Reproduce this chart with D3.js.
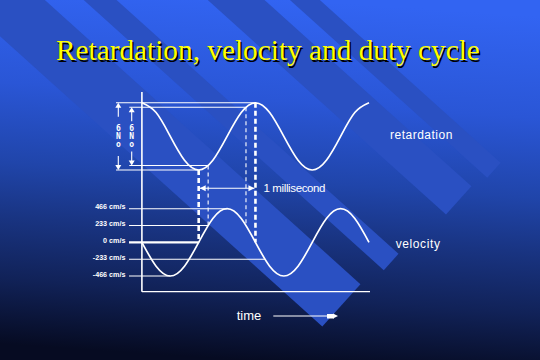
<!DOCTYPE html>
<html><head><meta charset="utf-8">
<script src="https://cdn.jsdelivr.net/npm/d3@7/dist/d3.min.js"></script>
<style>html,body{margin:0;padding:0;background:#000;}svg{display:block;}</style>
</head><body>
<script>
// ---- data ----
const title = "Retardation, velocity and duty cycle";
const timeMs = [0,0.25,0.5,0.75,1,1.25,1.5,1.75,2,2.25,2.5,2.75,3,3.25,3.5,3.75,4];
const retardation = [1,0.71,0,-0.71,-1,-0.71,0,0.71,1,0.71,0,-0.71,-1,-0.71,0,0.71,1];
const velocity = [0,-330,-466,-330,0,330,466,330,0,-330,-466,-330,0,330,466,330,0];
const velTicks = [466,233,0,-233,-466];
const velTickLabels = ["466 cm/s","233 cm/s","0 cm/s","-233 cm/s","-466 cm/s"];
const velTickEnds = [1.5,1.1667,1.0,2.1667,0.5];   // time where each guide line meets the curve
const retLevels = [1,0.866,-0.866,-1];
const retLevelEnds = [2,1.8333,1.1667,1];
const dutyThick = [1,2];          // ms, thick dashed
const dutyThin = [1.1667,1.8333]; // ms, thin dashed
const seriesNames = ["retardation","velocity"];
const intervalLabel = "1 millisecond";
const xLabel = "time";
const ampLabel = ["6","N","o"];

const W=540,H=360;
const svg=d3.select("body").append("svg").attr("width",W).attr("height",H);
const defs=svg.append("defs");
const g=defs.append("linearGradient").attr("id","bg").attr("x1",0.55).attr("y1",0).attr("x2",0.45).attr("y2",1);
[[0,"#3264f2"],[0.28,"#2a56d6"],[0.5,"#2045aa"],[0.65,"#193482"],[0.82,"#112258"],[1,"#060b22"]]
 .forEach(s=>g.append("stop").attr("offset",s[0]).attr("stop-color",s[1]));
svg.append("rect").attr("width",W).attr("height",H).attr("fill","url(#bg)");

// decorative ribbons: rotated frame (u along ribbon, v across)
const ang=42;
const ribbons=[{v0:-30,v1:27,u:458},{v0:-78,v1:-56,u:466},{v0:-177,v1:-139,u:475},{v0:-214,v1:-194,u:481}];
const rg=svg.append("g").attr("transform",`rotate(${ang})`);
ribbons.forEach(r=>rg.append("rect").attr("x",-400).attr("y",r.v0).attr("width",r.u+400).attr("height",r.v1-r.v0).attr("fill","#2a50c2"));

// title
const tt=svg.append("g").attr("font-family","'Liberation Serif','Times New Roman',serif").attr("font-size",29.3);
tt.append("text").attr("x",57.5).attr("y",61.5).attr("fill","#000").text(title);
tt.append("text").attr("x",56).attr("y",60).attr("fill","#ffff00").text(title);

// scales
const x=d3.scaleLinear().domain([0,4]).range([141.9,369]);
const yR=d3.scaleLinear().domain([-1,1]).range([170,102.8]);
const yV=d3.scaleLinear().domain([-466,466]).range([276,208.7]);

const W1="#ffffff";
const ch=svg.append("g").attr("stroke",W1).attr("fill","none");

// axes
ch.append("line").attr("x1",x(0)).attr("x2",x(0)).attr("y1",92).attr("y2",291.7).attr("stroke-width",1.6);
ch.append("line").attr("x1",x(0)).attr("x2",370).attr("y1",291.7).attr("y2",291.7).attr("stroke-width",1.3);

// retardation guide lines
const retStarts=[116,129.3,129.3,116];
retLevels.forEach((l,i)=>ch.append("line").attr("x1",retStarts[i]).attr("x2",x(retLevelEnds[i]))
  .attr("y1",yR(l)).attr("y2",yR(l)).attr("stroke-width",1.1));

// velocity guide lines
velTicks.forEach((v,i)=>ch.append("line").attr("x1",129).attr("x2",x(velTickEnds[i]))
  .attr("y1",yV(v)).attr("y2",yV(v)).attr("stroke-width",v===0?2.2:1.1));
const vl=svg.append("g").attr("font-family","'Liberation Sans',Arial,sans-serif").attr("font-size",7.2)
  .attr("font-weight","bold").attr("fill",W1).attr("text-anchor","end");
velTicks.forEach((v,i)=>vl.append("text").attr("x",125.5).attr("y",yV(v)+0.5).text(velTickLabels[i]));

// duty cycle dashed lines
dutyThick.forEach((t,i)=>ch.append("line").attr("x1",x(t)).attr("x2",x(t))
  .attr("y1",i===0?yR(-1):yR(1)).attr("y2",yV(0)).attr("stroke-width",2.6).attr("stroke-dasharray","5,3"));
dutyThin.forEach((t,i)=>ch.append("line").attr("x1",x(t)).attr("x2",x(t))
  .attr("y1",i===0?yR(-0.866):yR(0.866)).attr("y2",yV(233)).attr("stroke-width",1.1).attr("stroke-dasharray","4,3"));

// curves
const lineR=d3.line().x((d,i)=>x(timeMs[i])).y(d=>yR(d)).curve(d3.curveNatural);
const lineV=d3.line().x((d,i)=>x(timeMs[i])).y(d=>yV(d)).curve(d3.curveNatural);
ch.append("path").attr("d",lineR(retardation)).attr("stroke-width",1.7);
ch.append("path").attr("d",lineV(velocity)).attr("stroke-width",1.7);

// 1 ms interval arrow
const ya=188.3;
ch.append("line").attr("x1",x(1)+1).attr("x2",x(2)-1).attr("y1",ya).attr("y2",ya).attr("stroke-width",1.1);
const ah=svg.append("g").attr("fill",W1);
ah.append("path").attr("d",`M${x(1)+1},${ya} l6,-3 v6 z`);
ah.append("path").attr("d",`M${x(2)-1},${ya} l-6,-3 v6 z`);

// amplitude dimension arrows
[[118.3,yR(1),yR(-1)],[131.7,yR(0.866),yR(-0.866)]].forEach(([ax,yt,yb])=>{
  ch.append("line").attr("x1",ax).attr("x2",ax).attr("y1",yt+2).attr("y2",yt+14).attr("stroke-width",1.1);
  ch.append("line").attr("x1",ax).attr("x2",ax).attr("y1",yb-14).attr("y2",yb-2).attr("stroke-width",1.1);
  ah.append("path").attr("d",`M${ax},${yt} l-3,5 h6 z`);
  ah.append("path").attr("d",`M${ax},${yb} l-3,-5 h6 z`);
  const lg=svg.append("g").attr("font-family","'DejaVu Sans Mono',monospace").attr("font-size",8).attr("font-weight","bold")
    .attr("fill",W1).attr("text-anchor","middle");
  ampLabel.forEach((c,k)=>lg.append("text").attr("x",ax).attr("y",(yt+yb)/2-5+k*8).text(c));
});

// series labels
const sl=svg.append("g").attr("font-family","'Liberation Sans',Arial,sans-serif").attr("fill",W1);
sl.append("text").attr("x",390).attr("y",139.3).attr("font-size",12).attr("letter-spacing",0.5).text(seriesNames[0]);
sl.append("text").attr("x",395.7).attr("y",248.3).attr("font-size",12).attr("letter-spacing",0.6).text(seriesNames[1]);
sl.append("text").attr("x",263.5).attr("y",191.5).attr("font-size",11.5).attr("textLength",62).text(intervalLabel);
sl.append("text").attr("x",236.7).attr("y",320).attr("font-size",13).text(xLabel);

// time arrow
ch.append("line").attr("x1",273.3).attr("x2",334).attr("y1",316).attr("y2",316).attr("stroke-width",1.1);
ah.append("rect").attr("x",327).attr("y",314).attr("width",7).attr("height",4.5);
ah.append("path").attr("d","M333,313.5 l5,2.5 l-5,2.5 z");
</script>
</body></html>
